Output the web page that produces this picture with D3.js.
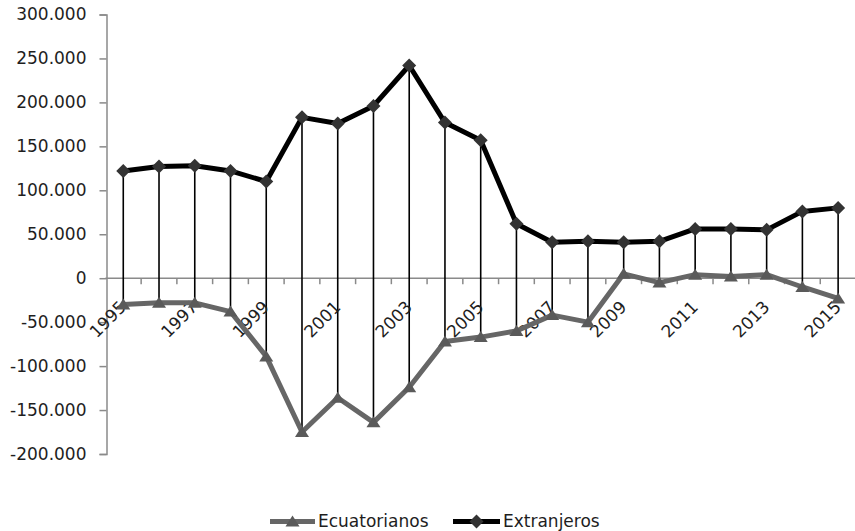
<!DOCTYPE html>
<html>
<head>
<meta charset="utf-8">
<script src="https://cdn.jsdelivr.net/npm/d3@7"></script>
<style>
  html, body { margin: 0; padding: 0; background: #fff; }
  svg { display: block; }
  text { font-family: "DejaVu Sans", sans-serif; fill: #1e1e1e; }
</style>
</head>
<body>
<svg id="chart" width="855" height="531"></svg>
<script>
const years = ["1995","1996","1997","1998","1999","2000","2001","2002","2003","2004","2005","2006","2007","2008","2009","2010","2011","2012","2013","2014","2015"];
const ecuatorianos = [-30000, -28000, -28000, -38000, -89000, -175000, -136000, -164000, -124000, -72000, -67000, -60000, -42000, -50000, 5000, -5000, 4000, 2000, 4000, -10000, -23000];
const extranjeros = [122000, 127000, 128000, 122000, 110000, 183000, 176000, 196000, 242000, 177000, 157000, 62000, 41000, 42000, 41000, 42000, 56000, 56000, 55000, 76000, 80000];
const yTicks = [-200000, -150000, -100000, -50000, 0, 50000, 100000, 150000, 200000, 250000, 300000];
const xLabelYears = ["1995","1997","1999","2001","2003","2005","2007","2009","2011","2013","2015"];
const seriesNames = ["Ecuatorianos", "Extranjeros"];

const svg = d3.select("#chart");
const x = d3.scaleBand().domain(years).range([105.4, 856]).padding(0);
const y = d3.scaleLinear().domain([-200000, 300000]).range([454, 14.5]);
const cx = d => x(d) + x.bandwidth() / 2;
const loc = d3.formatLocale({decimal: ",", thousands: ".", grouping: [3], currency: ["", ""], minus: "-"});
const fmt = loc.format(",");

const axisColor = "#8a8a8a";
const y0 = y(0);

// Y axis
const yAxis = svg.append("g").attr("transform", "translate(106.5,0)")
  .call(d3.axisLeft(y).tickValues(yTicks).tickFormat(fmt).tickSize(7).tickPadding(13));
yAxis.select(".domain").attr("stroke", axisColor).attr("stroke-width", 1.5);
yAxis.selectAll(".tick line").attr("stroke", axisColor).attr("stroke-width", 1.5);
yAxis.selectAll(".tick text").attr("font-size", 17).attr("font-family", "DejaVu Sans").attr("fill", "#1e1e1e");

// X axis at zero line
const xAxis = svg.append("g").attr("transform", `translate(0,${y0})`);
xAxis.append("line").attr("x1", x.range()[0]).attr("x2", x.range()[1]).attr("y1", 0).attr("y2", 0)
  .attr("stroke", axisColor).attr("stroke-width", 1.5);
xAxis.selectAll("line.tk").data(years.slice(1)).enter().append("line").attr("class", "tk")
  .attr("x1", d => x(d)).attr("x2", d => x(d)).attr("y1", 0).attr("y2", 6)
  .attr("stroke", axisColor).attr("stroke-width", 1.5);

// Drop lines
const idx = years.map((d, i) => i);
svg.append("g").selectAll("line").data(idx).enter().append("line")
  .attr("x1", i => cx(years[i])).attr("x2", i => cx(years[i]))
  .attr("y1", i => y(extranjeros[i])).attr("y2", i => y(ecuatorianos[i]))
  .attr("stroke", "#000").attr("stroke-width", 1.6);

// X labels
svg.append("g").selectAll("text").data(xLabelYears).enter().append("text")
  .attr("transform", d => `translate(${cx(d) + 4},${y0 + 30}) rotate(-45)`)
  .attr("text-anchor", "end").attr("font-size", 17).text(d => d);

// Lines
const line = d3.line().x((d, i) => cx(years[i])).y(d => y(d));
svg.append("path").datum(ecuatorianos).attr("d", line).attr("fill", "none")
  .attr("stroke", "#666").attr("stroke-width", 5).attr("stroke-linejoin", "round");
svg.append("path").datum(extranjeros).attr("d", line).attr("fill", "none")
  .attr("stroke", "#000").attr("stroke-width", 5).attr("stroke-linejoin", "round");

const tri = "M0,-6L7,5L-7,5Z";
const dia = "M0,-7L7,0L0,7L-7,0Z";
svg.append("g").selectAll("path").data(idx).enter().append("path")
  .attr("d", tri).attr("fill", "#5a5a5a")
  .attr("transform", i => `translate(${cx(years[i])},${y(ecuatorianos[i])})`);
svg.append("g").selectAll("path").data(idx).enter().append("path")
  .attr("d", dia).attr("fill", "#333")
  .attr("transform", i => `translate(${cx(years[i])},${y(extranjeros[i])})`);

// Legend
const leg = svg.append("g");
const legY = 521.5;
const items = [
  {name: seriesNames[0], x1: 270, x2: 315, color: "#666", mark: tri, mfill: "#5a5a5a"},
  {name: seriesNames[1], x1: 453, x2: 500, color: "#000", mark: dia, mfill: "#333"}
];
items.forEach(it => {
  leg.append("line").attr("x1", it.x1).attr("x2", it.x2).attr("y1", legY).attr("y2", legY)
    .attr("stroke", it.color).attr("stroke-width", 5);
  leg.append("path").attr("d", it.mark).attr("fill", it.mfill)
    .attr("transform", `translate(${(it.x1 + it.x2) / 2},${legY})`);
  leg.append("text").attr("x", it.x2 + 3).attr("y", legY).attr("dy", "0.35em")
    .attr("font-size", 17).text(it.name);
});
</script>
</body>
</html>
